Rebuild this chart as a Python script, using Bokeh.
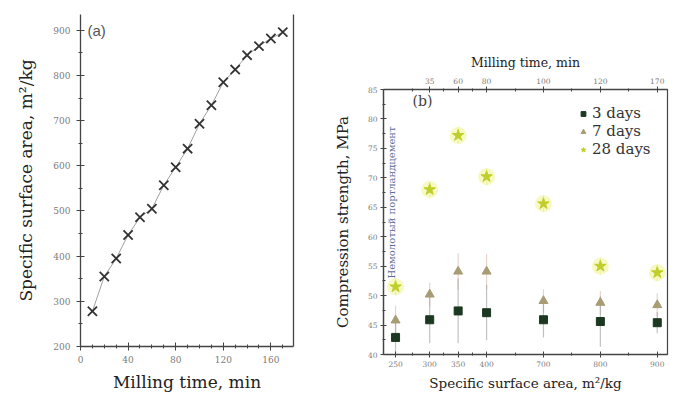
import numpy as np
from bokeh.plotting import figure
from bokeh.layouts import row
from bokeh.models import (Range1d, LinearAxis, FixedTicker, Label, Legend, LegendItem)
from bokeh.embed import file_html
from bokeh.resources import INLINE

# ---------------- data: panel (a) ----------------
milling_time = [10, 20, 30, 40, 50, 60, 70, 80, 90, 100, 110, 120, 130, 140, 150, 160, 170]
surface_area = [278, 355, 395, 447, 486, 505, 557, 597, 638, 693, 734, 785, 813, 845, 865, 882, 896]

# ---------------- data: panel (b) ----------------
area_labels = ["250", "300", "350", "400", "700", "800", "900"]
time_labels = ["", "35", "60", "80", "100", "120", "170"]
area_slot = [0, 6, 11, 16, 26, 36, 46]          # axis slot of each sample
strength_3d = [42.9, 45.9, 47.4, 47.1, 45.9, 45.6, 45.4]
strength_7d = [45.8, 50.2, 54.1, 54.1, 49.1, 48.8, 48.4]
strength_28d = [51.5, 68.0, 77.2, 70.2, 65.6, 55.0, 53.9]
err_3d = [2.7, 4.0, 5.5, 4.7, 3.0, 4.3, 1.8]
err_7d = [2.5, 2.0, 3.1, 3.0, 2.0, 2.0, 2.0]
err_28d = [1.5, 1.5, 1.5, 1.5, 1.5, 1.5, 1.5]

SERIF = "DejaVu Serif"
AX = "#444444"


def style_axis(ax, label_size, tick_size, label_color="#222222", tick_color="#7a7a7a"):
    ax.axis_line_color = AX
    ax.axis_line_width = 1.3
    ax.major_tick_line_color = AX
    ax.minor_tick_line_color = AX
    ax.axis_label_text_font = SERIF
    ax.axis_label_text_font_style = "normal"
    ax.axis_label_text_font_size = label_size
    ax.axis_label_text_color = label_color
    ax.major_label_text_font = SERIF
    ax.major_label_text_font_size = tick_size
    ax.major_label_text_color = tick_color


# ================= panel (a) =================
pa = figure(width=330, height=394, output_backend="svg", toolbar_location=None,
            x_range=Range1d(0, 179), y_range=Range1d(200, 935),
            min_border_left=80, min_border_right=37, min_border_top=14, min_border_bottom=48)
pa.frame_align = False
pa.outline_line_color = None
pa.grid.visible = False

pa.line(milling_time, surface_area, color="#a0a0a0", line_width=1)
pa.scatter(milling_time, surface_area, marker="x", size=13, line_width=1.8, color="#333333")

ax_a_x = pa.below[0]
ax_a_y = pa.left[0]
ax_a_x.ticker = FixedTicker(ticks=[0, 40, 80, 120, 160], minor_ticks=list(range(0, 180, 10)))
ax_a_y.ticker = FixedTicker(ticks=list(range(200, 1000, 100)), minor_ticks=list(range(200, 950, 50)))
ax_a_x.axis_label = "Milling time, min"
ax_a_y.axis_label = "Specific surface area, m²/kg"
for ax in (ax_a_x, ax_a_y):
    style_axis(ax, "17px", "9px")
    ax.major_tick_in = 4
    ax.major_tick_out = 4
    ax.minor_tick_in = 2
    ax.minor_tick_out = 2
ax_a_x.major_label_standoff = 5
ax_a_x.axis_label_standoff = 6
ax_a_y.major_label_standoff = 6
ax_a_y.axis_label_standoff = 14

ra = LinearAxis(ticker=FixedTicker(ticks=[]), major_label_text_font_size="0px",
                axis_line_color=AX, axis_line_width=1.3,
                major_tick_line_color=None, minor_tick_line_color=None)
pa.add_layout(ra, "right")

pa.add_layout(Label(x=7, y=325, x_units="screen", y_units="screen", text="(a)",
                    text_font="Liberation Sans", text_font_size="15px",
                    text_color="#555555", text_baseline="top", text_align="left"))

# ================= panel (b) =================
pb = figure(width=350, height=394, output_backend="svg", toolbar_location=None,
            x_range=Range1d(-2.12, 47.8), y_range=Range1d(40, 85),
            min_border_left=48, min_border_right=13, min_border_top=89, min_border_bottom=40)
pb.frame_align = False
pb.outline_line_color = AX
pb.outline_line_width = 1.2
pb.grid.visible = False

x = np.array(area_slot, dtype=float)
s3, s7, s28 = np.array(strength_3d), np.array(strength_7d), np.array(strength_28d)
e3, e7, e28 = np.array(err_3d), np.array(err_7d), np.array(err_28d)

pb.segment(x, s28 - e28, x, s28 + e28, color="#e6ec9a", line_width=1.2, alpha=0.6)
pb.segment(x, s7 - e7, x, s7 + e7, color="#d7b9aa", line_width=1.2, alpha=0.6)
pb.segment(x, s3 - e3, x, s3 + e3, color="#9a9a9a", line_width=1.2, alpha=0.6)

r3 = pb.scatter(x, s3, marker="square", size=8, fill_color="#1d3820", line_color="#1d3820")
r7 = pb.scatter(x, s7, marker="triangle", size=9, fill_color="#a89c74", line_color="#a89c74")
r28h = pb.scatter(x, s28, marker="circle", size=17, fill_color="#eef27a", fill_alpha=0.45,
                  line_color=None)
r28 = pb.scatter(x, s28, marker="star", size=12, fill_color="#c0ce2c", line_color="#c0ce2c")

ax_b_x = pb.below[0]
ax_b_y = pb.left[0]
minor_b = [3, 8.5, 13.5, 21, 31, 41]
ax_b_x.ticker = FixedTicker(ticks=area_slot, minor_ticks=minor_b)
ax_b_x.major_label_overrides = {s: l for s, l in zip(area_slot, area_labels)}
ax_b_y.ticker = FixedTicker(ticks=list(range(40, 90, 5)),
                            minor_ticks=[40 + 2.5 * i for i in range(19)])
ax_b_x.axis_label = "Specific surface area, m²/kg"
ax_b_y.axis_label = "Compression strength, MPa"

ta = LinearAxis(ticker=FixedTicker(ticks=area_slot[1:], minor_ticks=minor_b),
                major_label_overrides={s: l for s, l in zip(area_slot[1:], time_labels[1:])},
                axis_label="Milling time, min")
pb.add_layout(ta, "above")

style_axis(ax_b_x, "13.5px", "7.5px")
style_axis(ax_b_y, "15px", "7.5px")
style_axis(ta, "12.5px", "7.5px")
for ax in (ax_b_x, ax_b_y, ta):
    ax.major_tick_in = 3
    ax.major_tick_out = 3
    ax.minor_tick_in = 2
    ax.minor_tick_out = 1
    ax.major_label_standoff = 3
ax_b_x.axis_label_standoff = 5
ax_b_y.axis_label_standoff = 13
ta.axis_label_standoff = 5

legend = Legend(items=[LegendItem(label="3 days", renderers=[r3]),
                       LegendItem(label="7 days", renderers=[r7]),
                       LegendItem(label="28 days", renderers=[r28h, r28])],
                location=(194, 196), padding=0, margin=0, spacing=0,
                glyph_width=12, glyph_height=17, label_height=17, label_standoff=3,
                label_text_font=SERIF, label_text_font_size="15px",
                label_text_color="#333333",
                border_line_color=None, background_fill_alpha=0)
pb.add_layout(legend)

pb.add_layout(Label(x=29, y=262, x_units="screen", y_units="screen", text="(b)",
                    text_font=SERIF, text_font_size="14px", text_color="#444444",
                    text_baseline="top", text_align="left"))
pb.add_layout(Label(x=8, y=152, x_units="screen", y_units="screen",
                    text="Немолотый портландцемент", angle=np.pi / 2,
                    text_font=SERIF, text_font_size="10px", text_color="#5b6b9a",
                    text_align="center", text_baseline="middle"))

layout = row(pa, pb)
open("out.html", "w").write(file_html(layout, INLINE))
